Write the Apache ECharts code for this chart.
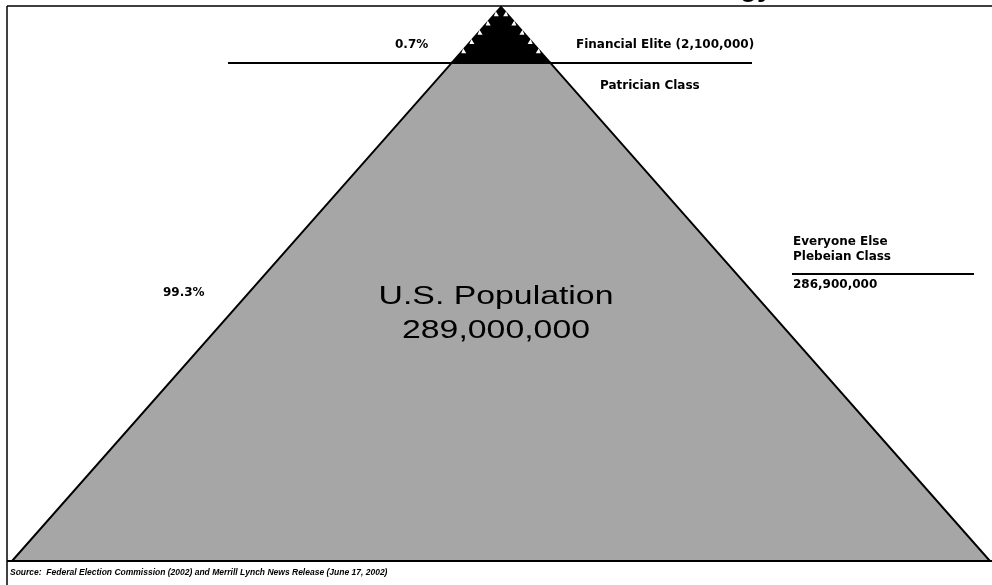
<!DOCTYPE html>
<html>
<head>
<meta charset="utf-8">
<script src="https://cdn.jsdelivr.net/npm/echarts@6/dist/echarts.min.js"></script>
<style>
html,body{margin:0;padding:0;background:#fff;}
#c{width:992px;height:585px;}
</style>
</head>
<body>
<div id="c"></div>
<script>
// ---- data ----
const tiers = ['Financial Elite', 'Everyone Else'];
const classNames = ['Patrician Class', 'Plebeian Class'];
const population = [2100000, 286900000];
const shareLabels = ['0.7%', '99.3%'];
const totalPopulation = 289000000;
// tier extent as fraction of pyramid height (bottom, top)
const tierBottom = [0.9, 0];
const tierTop = [1, 0.9];
const tierColors = ['#000000', '#a6a6a6'];
const sourceText = 'Source:  Federal Election Commission (2002) and Merrill Lynch News Release (June 17, 2002)';

const fmt = n => n.toLocaleString('en-US');

const chart = echarts.init(document.getElementById('c'), null, {renderer: 'canvas'});

function renderItem(params, api) {
  const b = api.value(0), t = api.value(1), idx = api.value(2);
  const p1 = api.coord([-(1 - b), b]);
  const p2 = api.coord([1 - b, b]);
  const p3 = api.coord([1 - t, t]);
  const p4 = api.coord([-(1 - t), t]);
  const children = [{
    type: 'polygon',
    shape: {points: [p1, p2, p3, p4]},
    style: {fill: tierColors[idx], stroke: '#000', lineWidth: 2}
  }];
  if (idx === 0) {
    // decorative white notches along the edges of the black apex
    const apex = p3;
    const steps = 6;
    for (let k = 1; k < steps; k++) {
      const f = k / steps;
      const ey = apex[1] + (p1[1] - apex[1]) * f;
      const exL = apex[0] + (p1[0] - apex[0]) * f;
      const exR = apex[0] + (p2[0] - apex[0]) * f;
      children.push({type: 'polygon', shape: {points: [[exL + 1, ey], [exL + 6, ey], [exL + 3, ey - 5]]}, style: {fill: '#fff'}});
      children.push({type: 'polygon', shape: {points: [[exR - 1, ey], [exR - 6, ey], [exR - 3, ey - 5]]}, style: {fill: '#fff'}});
    }
  }
  return {type: 'group', children};
}

const seriesData = tiers.map((name, i) => ({name, value: [tierBottom[i], tierTop[i], i]}));

const textFont = 'bold 12px "DejaVu Sans"';
const lab = (text, x, y) => ({
  type: 'text', x, y, z: 10,
  style: {text, font: textFont, fill: '#000', align: 'left', verticalAlign: 'middle', textAlign: 'left', textVerticalAlign: 'middle'}
});

chart.setOption({
  animation: false,
  grid: {left: 12, right: 2, top: 7, bottom: 24},
  xAxis: {type: 'value', min: -1, max: 1, show: false},
  yAxis: {type: 'value', min: 0, max: 1, show: false},
  series: [{
    type: 'custom',
    renderItem,
    data: seriesData,
    encode: {x: -1, y: [0, 1]},
    silent: true
  }],
  graphic: [
    // title fragment cut off at top
    {type: 'text', x: 740, y: -12, z: 10, style: {text: 'gy', font: 'bold 28px "Liberation Sans"', fill: '#000', verticalAlign: 'middle', textVerticalAlign: 'middle'}},
    // frame
    {type: 'line', z: 9, shape: {x1: 7, y1: 6, x2: 992, y2: 6}, style: {stroke: '#000', lineWidth: 1.5}},
    {type: 'line', z: 9, shape: {x1: 7, y1: 6, x2: 7, y2: 585}, style: {stroke: '#000', lineWidth: 1.5}},
    {type: 'line', z: 9, shape: {x1: 7, y1: 561, x2: 992, y2: 561}, style: {stroke: '#000', lineWidth: 2}},
    // annotation lines
    {type: 'line', z: 9, shape: {x1: 228, y1: 63, x2: 752, y2: 63}, style: {stroke: '#000', lineWidth: 2}},
    {type: 'line', z: 9, shape: {x1: 792, y1: 274, x2: 974, y2: 274}, style: {stroke: '#000', lineWidth: 2}},
    // labels
    lab(shareLabels[0], 395, 45),
    lab(tiers[0] + ' (' + fmt(population[0]) + ')', 576, 45),
    lab(classNames[0], 600, 86),
    lab(shareLabels[1], 163, 293),
    lab(tiers[1], 793, 242),
    lab(classNames[1], 793, 257),
    lab(fmt(population[1]), 793, 285),
    {type: 'text', x: 496, y: 297, z: 10, scaleX: 1.3,
     style: {text: 'U.S. Population', font: '26px "Liberation Sans"', fill: '#000', align: 'center', verticalAlign: 'middle', textAlign: 'center', textVerticalAlign: 'middle'}},
    {type: 'text', x: 496, y: 331, z: 10, scaleX: 1.3,
     style: {text: fmt(totalPopulation), font: '26px "Liberation Sans"', fill: '#000', align: 'center', verticalAlign: 'middle', textAlign: 'center', textVerticalAlign: 'middle'}},
    {type: 'text', x: 10, y: 573, z: 10,
     style: {text: sourceText, font: 'italic bold 8.5px "Liberation Sans"', fill: '#000', verticalAlign: 'middle', textVerticalAlign: 'middle'}}
  ]
});
</script>
</body>
</html>
